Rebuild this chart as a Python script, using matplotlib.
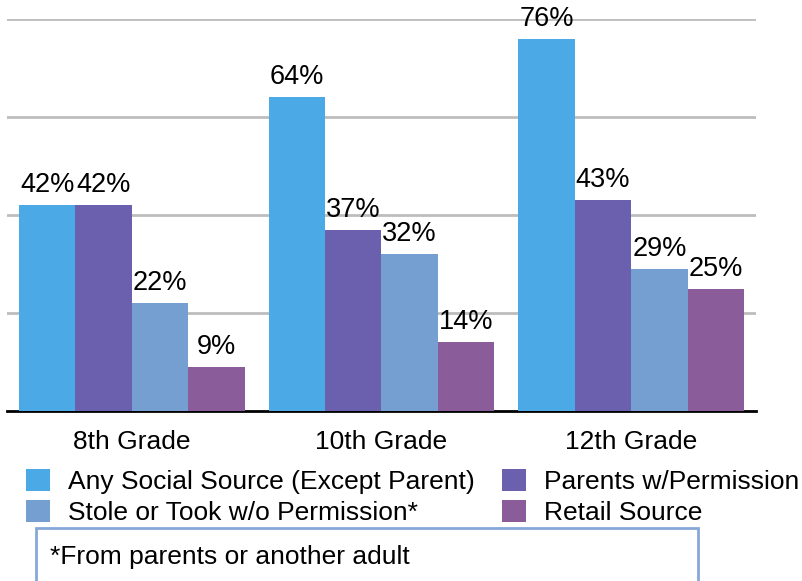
import numpy as np
import matplotlib
matplotlib.use('Agg')
import matplotlib.pyplot as plt
from matplotlib.patches import Patch, Rectangle

plt.rcParams['font.family'] = ['Liberation Sans', 'DejaVu Sans']

# 数据
grades = ['8th Grade', '10th Grade', '12th Grade']
series_names = ['Any Social Source (Except Parent)', 'Parents w/Permission',
                'Stole or Took w/o Permission*', 'Retail Source']
any_social = [42, 64, 76]
parents_perm = [42, 37, 43]
stole = [22, 32, 29]
retail = [9, 14, 25]
colors = ['#4BAAE6', '#6B60AE', '#769FD1', '#8A5C9A']

W, H = 803, 581
fig = plt.figure(figsize=(W / 100, H / 100), dpi=100)
ax = fig.add_axes([7 / W, (H - 411) / H, 749 / W, 392 / H])

x = np.arange(len(grades))
bw = 0.226
values = [any_social, parents_perm, stole, retail]
for i, (vals, c) in enumerate(zip(values, colors)):
    pos = x + (i - 1.5) * bw
    ax.bar(pos, vals, width=bw, color=c, zorder=3)
    for px, v in zip(pos, vals):
        ax.annotate(f'{v}%', (px, v), xytext=(0, 5), textcoords='offset points',
                    ha='center', va='bottom', fontsize=19.5, zorder=4)

ax.set_xlim(-0.5, 2.5)
ax.set_ylim(0, 80)
ax.set_yticks([20, 40, 60, 80])
ax.yaxis.grid(True, color='#bdbdbd', linewidth=2)
ax.set_axisbelow(True)
ax.tick_params(axis='y', left=False, labelleft=False)
ax.tick_params(axis='x', bottom=False, labelsize=19, pad=10)
ax.set_xticks(x)
ax.set_xticklabels(grades)
for s in ['top', 'right', 'left']:
    ax.spines[s].set_visible(False)
ax.spines['bottom'].set_linewidth(2)
ax.spines['bottom'].set_color('black')

# 图例（两列）
order = [0, 2, 1, 3]
handles = [Patch(facecolor=colors[k], edgecolor='none') for k in order]
labels = [series_names[k] for k in order]
fig.legend(handles, labels, ncol=2, loc='upper left',
           bbox_to_anchor=(26 / W, 1 - 469 / H), frameon=False,
           fontsize=19, handlelength=0.9, handleheight=0.9,
           handletextpad=0.68, columnspacing=1.05, labelspacing=0.24,
           borderpad=0, borderaxespad=0)

# 脚注框
box = Rectangle((36 / W, 1 - 600 / H), (698 - 36) / W, (600 - 528) / H,
                transform=fig.transFigure, fill=False,
                edgecolor='#86A8D8', linewidth=2)
fig.patches.append(box)
fig.text(50 / W, 1 - 557 / H, '*From parents or another adult',
         fontsize=19, va='center', ha='left')

plt.savefig('out.png', dpi=100)
